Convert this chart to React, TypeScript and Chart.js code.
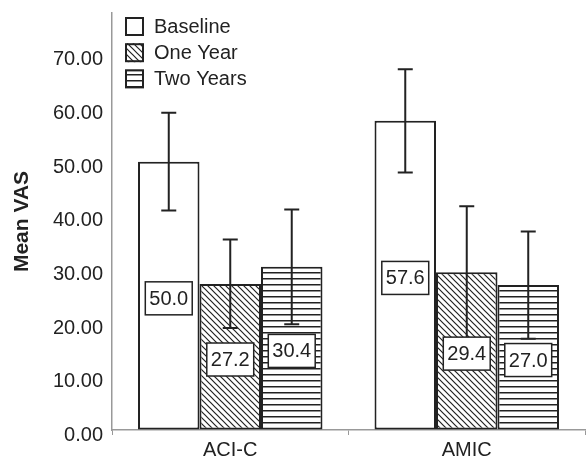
import React, { useEffect, useRef } from 'react';
import { Chart, registerables } from 'chart.js';

Chart.register(...registerables);

const categories = ['ACI-C', 'AMIC'];
const seriesNames = ['Baseline', 'One Year', 'Two Years'];
const baseline = [50.0, 57.6];
const oneYear = [27.2, 29.4];
const twoYears = [30.4, 27.0];
const baselineLow = [40.9, 48.0];
const baselineHigh = [59.1, 67.2];
const oneYearLow = [19.0, 17.1];
const oneYearHigh = [35.5, 41.7];
const twoYearsLow = [19.7, 17.0];
const twoYearsHigh = [41.1, 37.0];
const yTickValues = [0, 10, 20, 30, 40, 50, 60, 70];
const yTitle = 'Mean VAS';

const FONT = "'Liberation Sans', Arial, Helvetica, sans-serif";
const INK = '#222';

function makeDiagonal(): CanvasPattern | string {
  const s = 6;
  const c = document.createElement('canvas');
  c.width = s;
  c.height = s;
  const g = c.getContext('2d');
  if (!g) return '#fff';
  g.fillStyle = '#fff';
  g.fillRect(0, 0, s, s);
  g.strokeStyle = INK;
  g.lineWidth = 1.2;
  g.beginPath();
  g.moveTo(-1, -1);
  g.lineTo(s + 1, s + 1);
  g.moveTo(-1, s - 1);
  g.lineTo(1, s + 1);
  g.moveTo(s - 1, -1);
  g.lineTo(s + 1, 1);
  g.stroke();
  return g.createPattern(c, 'repeat') || '#fff';
}

function makeHorizontal(): CanvasPattern | string {
  const s = 6;
  const c = document.createElement('canvas');
  c.width = s;
  c.height = s;
  const g = c.getContext('2d');
  if (!g) return '#fff';
  g.fillStyle = '#fff';
  g.fillRect(0, 0, s, s);
  g.fillStyle = INK;
  g.fillRect(0, 2, s, 1.5);
  return g.createPattern(c, 'repeat') || '#fff';
}

export default function App() {
  const ref = useRef<HTMLCanvasElement | null>(null);

  useEffect(() => {
    const canvas = ref.current;
    if (!canvas) return;
    const diag = makeDiagonal();
    const horiz = makeHorizontal();
    const fills = ['#ffffff', diag, horiz];
    const values = [baseline, oneYear, twoYears];
    const lows = [baselineLow, oneYearLow, twoYearsLow];
    const highs = [baselineHigh, oneYearHigh, twoYearsHigh];

    const overlay = {
      id: 'overlay',
      afterDatasetsDraw(chart: any) {
        const ctx = chart.ctx;
        const ys = chart.scales.y;
        ctx.save();
        // error bars
        ctx.strokeStyle = INK;
        ctx.lineWidth = 2;
        values.forEach((_, i) => {
          const meta = chart.getDatasetMeta(i);
          meta.data.forEach((bar: any, j: number) => {
            const x = bar.x;
            const yh = ys.getPixelForValue(highs[i][j]);
            const yl = ys.getPixelForValue(lows[i][j]);
            ctx.beginPath();
            ctx.moveTo(x, yh);
            ctx.lineTo(x, yl);
            ctx.moveTo(x - 7.5, yh);
            ctx.lineTo(x + 7.5, yh);
            ctx.moveTo(x - 7.5, yl);
            ctx.lineTo(x + 7.5, yl);
            ctx.stroke();
          });
        });
        // value labels
        ctx.font = `20px ${FONT}`;
        ctx.textAlign = 'center';
        ctx.textBaseline = 'middle';
        values.forEach((vals, i) => {
          const meta = chart.getDatasetMeta(i);
          meta.data.forEach((bar: any, j: number) => {
            const txt = vals[j].toFixed(1);
            const w = ctx.measureText(txt).width + 8;
            const h = 33;
            const cx = bar.x;
            const cy = ys.getPixelForValue(vals[j] / 2) + 2.5;
            ctx.fillStyle = '#fff';
            ctx.fillRect(cx - w / 2, cy - h / 2, w, h);
            ctx.strokeStyle = INK;
            ctx.lineWidth = 1.5;
            ctx.strokeRect(cx - w / 2, cy - h / 2, w, h);
            ctx.fillStyle = INK;
            ctx.fillText(txt, cx, cy + 1);
          });
        });
        // legend
        const lx = chart.chartArea.left + 13;
        const ly = 17;
        const pitch = 26.2;
        seriesNames.forEach((name, i) => {
          const top = ly + i * pitch;
          ctx.fillStyle = fills[i];
          ctx.fillRect(lx, top, 19, 19);
          ctx.strokeStyle = INK;
          ctx.lineWidth = 2;
          ctx.strokeRect(lx + 1, top + 1, 17, 17);
          ctx.fillStyle = INK;
          ctx.textAlign = 'left';
          ctx.textBaseline = 'middle';
          ctx.font = `20px ${FONT}`;
          ctx.fillText(name, lx + 29, top + 10);
        });
        ctx.restore();
      },
    };

    const chart = new Chart(canvas, {
      type: 'bar',
      data: {
        labels: categories,
        datasets: seriesNames.map((name, i) => ({
          label: name,
          data: values[i],
          backgroundColor: fills[i] as any,
          borderColor: INK,
          borderWidth: 2,
          borderSkipped: false,
          categoryPercentage: 0.78,
          barPercentage: 1.0,
        })),
      },
      options: {
        responsive: false,
        animation: false,
        events: [],
        layout: { padding: { top: 13, right: 1, left: 0, bottom: 0 } },
        plugins: {
          legend: { display: false },
          tooltip: { enabled: false },
          title: { display: false },
        },
        scales: {
          x: {
            grid: {
              display: true,
              drawOnChartArea: false,
              drawTicks: true,
              tickLength: 5,
              color: '#999',
              offset: true,
            },
            border: { display: true, color: '#999', width: 1.5 },
            ticks: {
              color: INK,
              font: { family: FONT, size: 20 },
              padding: 3,
            },
            afterFit: (s: any) => {
              s.height = 29;
              s.paddingLeft = 0;
              s.paddingRight = 0;
            },
          },
          y: {
            min: 0,
            max: 77.7,
            grid: { display: true, drawOnChartArea: false, drawTicks: false },
            border: { display: true, color: '#999', width: 1.5 },
            ticks: {
              stepSize: 10,
              padding: 9,
              color: INK,
              font: { family: FONT, size: 20, lineHeight: '11px' as any },
              callback: (v: any) => ['', Number(v).toFixed(2)],
            },
            afterBuildTicks: (s: any) => {
              s.ticks = yTickValues.map((v) => ({ value: v }));
            },
            title: {
              display: true,
              text: yTitle,
              color: INK,
              font: { family: FONT, size: 21, weight: 'bold' },
              padding: { top: 10, bottom: 0 },
            },
            afterFit: (s: any) => {
              s.width = 112;
              s.paddingTop = 0;
              s.paddingBottom = 0;
            },
          },
        },
      },
      plugins: [overlay],
    });

    return () => chart.destroy();
  }, []);

  return (
    <canvas
      ref={ref}
      width={586}
      height={459}
      style={{ position: 'absolute', left: 0, top: 0, width: 586, height: 459 }}
    />
  );
}
